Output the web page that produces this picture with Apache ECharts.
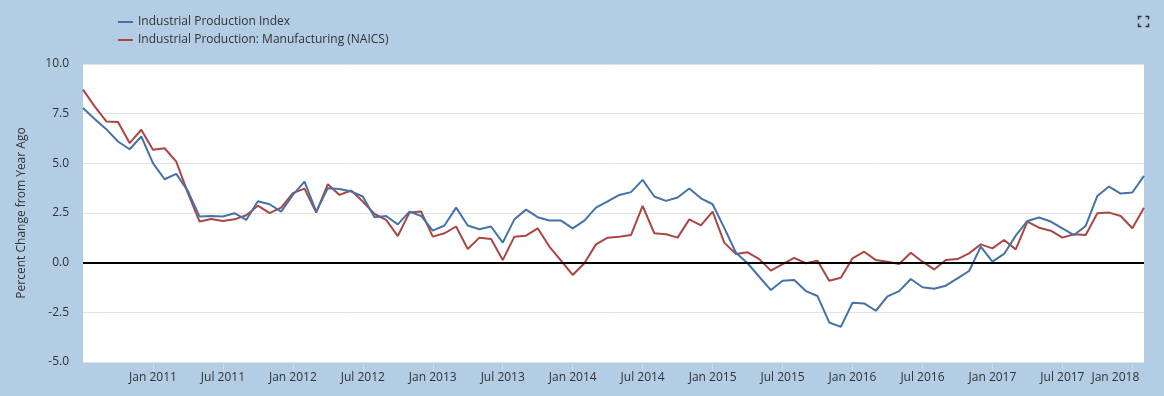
<!DOCTYPE html>
<html>
<head>
<meta charset="utf-8">
<script src="https://cdn.jsdelivr.net/npm/echarts@6/dist/echarts.min.js"></script>
<style>
html,body{margin:0;padding:0;background:#b3cde4;}
#chart{width:1164px;height:396px;}
</style>
</head>
<body>
<div id="chart"></div>
<script>
// Monthly observations, Jul 2010 .. Feb 2018
var startYear = 2010, startMonth = 6; // 0-based month: July
var seriesNames = ['Industrial Production Index', 'Industrial Production: Manufacturing (NAICS)'];
var industrialProduction = [
  7.78, 7.23, 6.72, 6.10, 5.71, 6.35, 5.01, 4.20, 4.47, 3.60, 2.32, 2.35,
  2.32, 2.49, 2.15, 3.09, 2.94, 2.57, 3.41, 4.08, 2.57, 3.75, 3.71, 3.58,
  3.33, 2.29, 2.35, 1.93, 2.57, 2.35, 1.61, 1.87, 2.77, 1.87, 1.68, 1.82,
  1.01, 2.18, 2.67, 2.29, 2.12, 2.12, 1.73, 2.12, 2.77, 3.08, 3.41, 3.55,
  4.17, 3.33, 3.11, 3.28, 3.73, 3.24, 2.94, 1.75, 0.50, -0.03, -0.71, -1.38,
  -0.91, -0.87, -1.43, -1.68, -3.01, -3.23, -2.02, -2.05, -2.42, -1.70, -1.43, -0.82,
  -1.24, -1.31, -1.16, -0.79, -0.42, 0.81, 0.05, 0.44, 1.36, 2.10, 2.27, 2.07,
  1.73, 1.39, 1.85, 3.36, 3.83, 3.48, 3.53, 4.37
];
var manufacturing = [
  8.71, 7.87, 7.11, 7.08, 6.02, 6.69, 5.68, 5.76, 5.09, 3.50, 2.07, 2.20,
  2.10, 2.18, 2.39, 2.87, 2.49, 2.77, 3.50, 3.73, 2.52, 3.95, 3.41, 3.63,
  3.08, 2.45, 2.15, 1.34, 2.52, 2.57, 1.31, 1.48, 1.82, 0.69, 1.26, 1.19,
  0.13, 1.31, 1.36, 1.73, 0.81, 0.10, -0.62, -0.03, 0.92, 1.26, 1.31, 1.39,
  2.86, 1.48, 1.43, 1.26, 2.18, 1.88, 2.57, 1.01, 0.44, 0.52, 0.18, -0.40,
  -0.07, 0.24, -0.03, 0.10, -0.91, -0.76, 0.22, 0.55, 0.13, 0.05, -0.07, 0.50,
  0.05, -0.34, 0.13, 0.18, 0.47, 0.92, 0.72, 1.14, 0.67, 2.07, 1.76, 1.61,
  1.26, 1.43, 1.39, 2.49, 2.52, 2.35, 1.73, 2.77
];
var monthNames = ['Jan','Feb','Mar','Apr','May','Jun','Jul','Aug','Sep','Oct','Nov','Dec'];
var yMin = -5, yMax = 10, yStep = 2.5;

var categories = [];
for (var i = 0; i < industrialProduction.length; i++) {
  var m = (startMonth + i) % 12;
  var y = startYear + Math.floor((startMonth + i) / 12);
  categories.push(monthNames[m] + ' ' + y);
}
function isTickMonth(idx) {
  return idx > 0 && /^(Jan|Jul) /.test(categories[idx]);
}
var lastLabelIdx = 0;
for (var j = 0; j < categories.length; j++) { if (isTickMonth(j)) lastLabelIdx = j; }

var chart = echarts.init(document.getElementById('chart'), null, {renderer: 'canvas'});
var font = '"Open Sans", "Noto Sans", sans-serif';
chart.setOption({
  backgroundColor: '#b3cde4',
  animation: false,
  textStyle: {fontFamily: font},
  legend: {
    orient: 'vertical',
    left: 113,
    top: 11,
    itemWidth: 15,
    itemHeight: 2,
    itemGap: 6,
    icon: 'rect',
    textStyle: {fontFamily: font, fontSize: 12, color: '#333'},
    data: seriesNames
  },
  grid: {
    left: 83, right: 20, top: 64, bottom: 34,
    show: true, backgroundColor: '#ffffff', borderWidth: 0,
    containLabel: false
  },
  xAxis: {
    type: 'category',
    data: categories,
    boundaryGap: false,
    axisLine: {show: false, onZero: false},
    axisTick: {show: true, interval: isTickMonth, length: 9, lineStyle: {color: '#d8d8d8'}},
    axisLabel: {
      interval: isTickMonth, margin: 10, fontFamily: font, fontSize: 12, color: '#333',
      formatter: function (val, idx) {
        return idx === lastLabelIdx ? '{last|' + val + '}' : val;
      },
      rich: {last: {fontFamily: font, fontSize: 12, color: '#333', padding: [0, 34, 0, 0]}}
    },
    splitLine: {show: false}
  },
  yAxis: {
    type: 'value',
    min: yMin, max: yMax, interval: yStep,
    name: 'Percent Change from Year Ago',
    nameLocation: 'middle',
    nameGap: 55,
    nameTextStyle: {fontFamily: font, fontSize: 12, color: '#333'},
    axisLine: {show: false},
    axisTick: {show: false},
    axisLabel: {margin: 14, fontFamily: font, fontSize: 12, color: '#333',
      formatter: function (v) { return v.toFixed(1); }},
    splitLine: {show: true, lineStyle: {color: '#e3e3e3', width: 1}}
  },
  series: [
    {
      name: seriesNames[0], type: 'line', data: industrialProduction,
      showSymbol: false, symbol: 'none',
      lineStyle: {color: '#4572a7', width: 2}, itemStyle: {color: '#4572a7'},
      markLine: {
        silent: true, symbol: 'none', label: {show: false},
        lineStyle: {color: '#000', width: 2, type: 'solid'},
        data: [{yAxis: 0}]
      },
      z: 3
    },
    {
      name: seriesNames[1], type: 'line', data: manufacturing,
      showSymbol: false, symbol: 'none',
      lineStyle: {color: '#aa4643', width: 2}, itemStyle: {color: '#aa4643'},
      z: 2
    }
  ],
  graphic: [{
    type: 'group', right: 13, top: 14,
    children: [
      {type: 'polyline', shape: {points: [[0,3],[0,0],[3,0]]}, style: {stroke: '#333', lineWidth: 1.5, fill: null}},
      {type: 'polyline', shape: {points: [[7,0],[10,0],[10,3]]}, style: {stroke: '#333', lineWidth: 1.5, fill: null}},
      {type: 'polyline', shape: {points: [[0,7],[0,10],[3,10]]}, style: {stroke: '#333', lineWidth: 1.5, fill: null}},
      {type: 'polyline', shape: {points: [[7,10],[10,10],[10,7]]}, style: {stroke: '#333', lineWidth: 1.5, fill: null}}
    ]
  }]
});
</script>
</body>
</html>
